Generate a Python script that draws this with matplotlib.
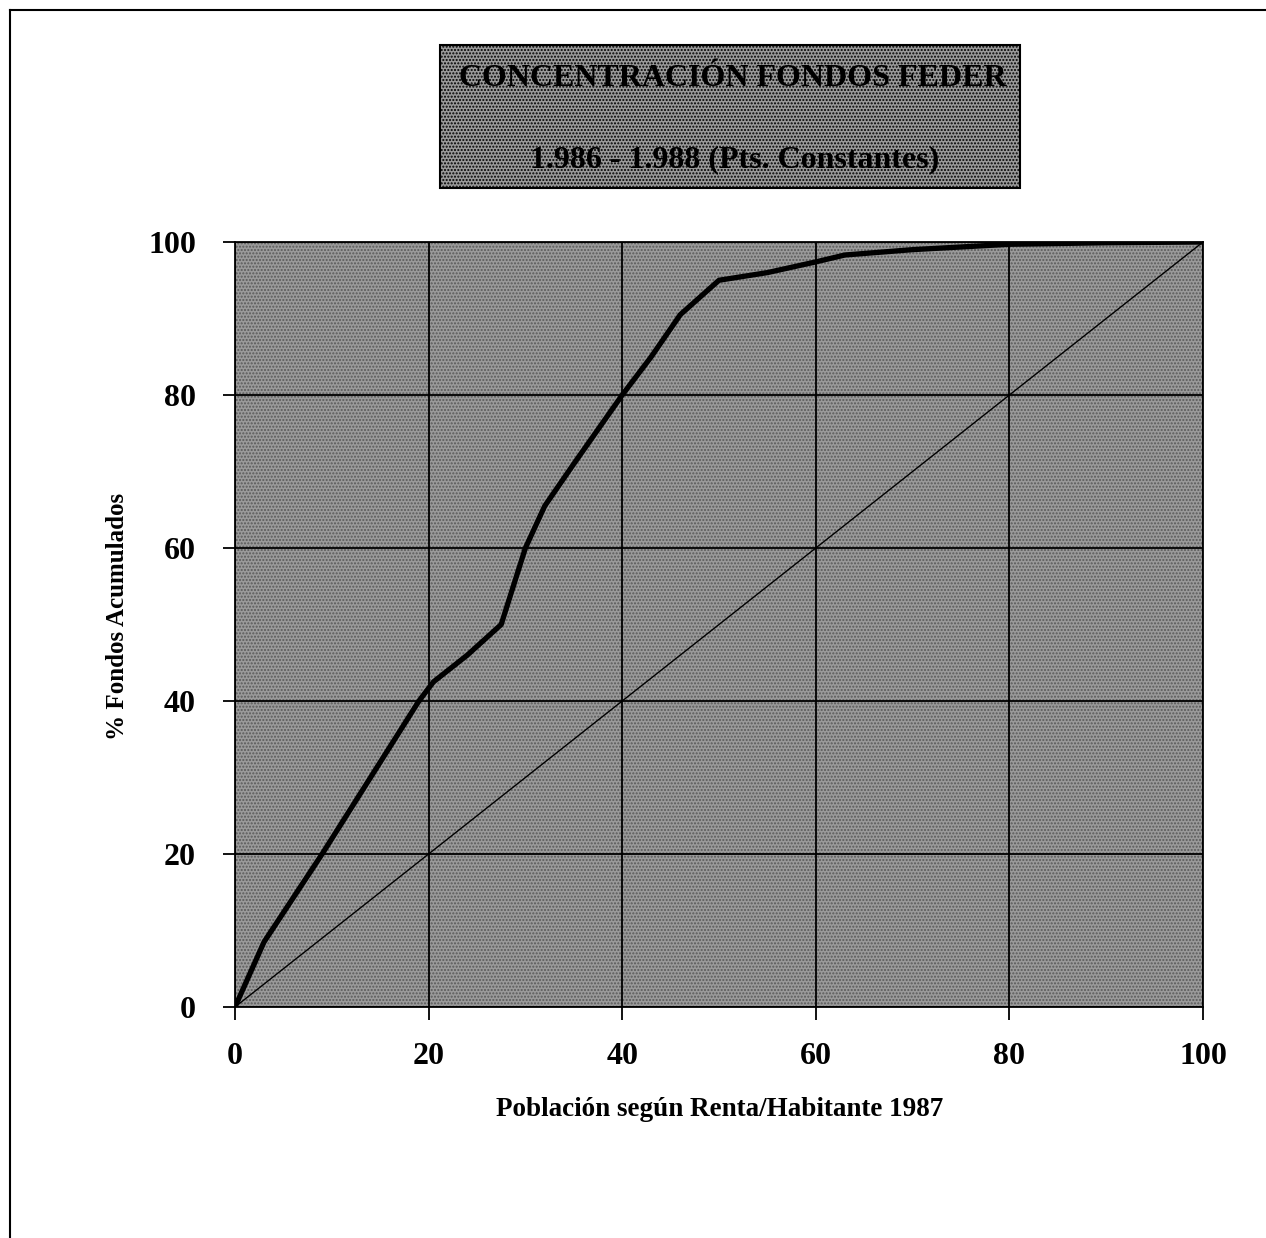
import matplotlib.pyplot as plt
from matplotlib.patches import Rectangle
from matplotlib.lines import Line2D

# Curva de concentracion
poblacion = [0, 3, 9, 13, 19, 20.5, 24, 27.5, 30, 32, 35, 40, 43, 46, 50, 55, 60, 63, 70, 80, 90, 100]
fondos = [0, 8.5, 20, 28, 40, 42.5, 46, 50, 60, 65.5, 71, 80, 85, 90.5, 95, 96, 97.4, 98.3, 99, 99.7, 99.9, 100]
diagonal_x = [0, 100]
diagonal_y = [0, 100]
ticks = [0, 20, 40, 60, 80, 100]

titulo1 = 'CONCENTRACIÓN FONDOS FEDER'
titulo2 = '1.986 - 1.988 (Pts. Constantes)'
xlab = 'Población según Renta/Habitante 1987'
ylab = '% Fondos Acumulados'

plt.rcParams['font.family'] = ['Liberation Serif', 'DejaVu Serif']
plt.rcParams['font.weight'] = 'bold'

W, H = 1266, 1238
fig = plt.figure(figsize=(W / 100, H / 100), dpi=100)
fig.patch.set_facecolor('white')

ax = fig.add_axes([235 / W, 1 - 1007 / H, (1203 - 235) / W, (1007 - 242) / H])
ax.set_facecolor('#9a9a9a')
# textura punteada del fondo
ax.add_patch(Rectangle((0, 0), 1, 1, transform=ax.transAxes, facecolor='none',
                       edgecolor='#5a5a5a', hatch='.....', lw=0, zorder=0.5))
ax.plot(diagonal_x, diagonal_y, color='black', lw=1.0, zorder=3)
ax.plot(poblacion, fondos, color='black', lw=3.8, zorder=4, solid_joinstyle='round')

ax.set_xlim(0, 100)
ax.set_ylim(0, 100)
ax.set_xticks(ticks)
ax.set_yticks(ticks)
ax.grid(True, color='black', lw=1.3)
ax.set_axisbelow(False)
for s in ax.spines.values():
    s.set_linewidth(1.3)
ax.tick_params(direction='out', length=9, width=1.3, labelsize=23)
ax.tick_params(axis='y', pad=19)
ax.tick_params(axis='x', pad=16)
for lab in ax.get_xticklabels() + ax.get_yticklabels():
    lab.set_fontweight('bold')

fig.text(720 / W, 1 - 1110 / H, xlab, ha='center', va='center', fontsize=19.5, fontweight='bold')
fig.text(118 / W, 1 - 616 / H, ylab, ha='center', va='center', rotation=90, fontsize=18, fontweight='bold')

# caja del titulo
fig.patches.append(Rectangle((440 / W, 1 - 188 / H), 580 / W, 143 / H, transform=fig.transFigure,
                             facecolor='#9a9a9a', edgecolor='black', lw=1.5, hatch='.....'))
fig.text(733 / W, 1 - 78 / H, titulo1, ha='center', va='center', fontsize=23, fontweight='bold')
fig.text(735 / W, 1 - 160 / H, titulo2, ha='center', va='center', fontsize=23, fontweight='bold')

# marco de la pagina
fig.add_artist(Line2D([10 / W, 10 / W], [0, 1 - 10 / H], transform=fig.transFigure, color='black', lw=1.5))
fig.add_artist(Line2D([10 / W, 1], [1 - 10 / H, 1 - 10 / H], transform=fig.transFigure, color='black', lw=1.5))

plt.savefig('out.png', dpi=100)
